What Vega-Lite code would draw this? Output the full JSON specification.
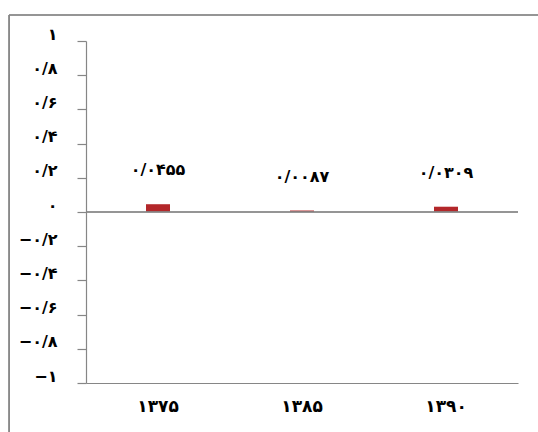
{
  "$schema": "https://vega.github.io/schema/vega-lite/v6.json",
  "width": 432,
  "height": 342,
  "autosize": {"type": "none"},
  "padding": {"left": 86, "top": 41, "right": 20, "bottom": 49},
  "background": "white",
  "config": {"view": {"stroke": null}, "font": "DejaVu Sans"},
  "data": {
    "values": [
      {"year": "۱۳۷۵", "value": 0.0455, "label": "۰/۰۴۵۵"},
      {"year": "۱۳۸۵", "value": 0.0087, "label": "۰/۰۰۸۷"},
      {"year": "۱۳۹۰", "value": 0.0309, "label": "۰/۰۳۰۹"}
    ]
  },
  "resolve": {"scale": {"x": "independent"}},
  "layer": [
    {
      "mark": {"type": "bar", "color": "#b3272a", "size": 24},
      "encoding": {
        "x": {
          "field": "year", "type": "nominal", "sort": null,
          "scale": {"paddingInner": 0, "paddingOuter": 0},
          "axis": {"title": null, "labelAngle": 0, "ticks": false, "domainColor": "#868686", "domainWidth": 1.2,
                   "labelFontSize": 17, "labelFontWeight": "bold", "labelColor": "#000", "labelPadding": 15}
        },
        "y": {
          "field": "value", "type": "quantitative",
          "scale": {"domain": [-1, 1], "nice": false, "zero": false},
          "axis": {
            "title": null, "grid": false, "labelOverlap": false, "tickCount": 11,
            "values": [-1, -0.8, -0.6, -0.4, -0.2, 0, 0.2, 0.4, 0.6, 0.8, 1],
            "labelExpr": "replace(replace(replace(replace(replace(replace(replace(format(datum.value, '.1~f'), '.', '/'), '0', '۰'), '1', '۱'), '2', '۲'), '4', '۴'), '6', '۶'), '8', '۸')",
            "domainColor": "#868686", "domainWidth": 1.2, "tickColor": "#868686", "tickSize": 9, "tickWidth": 1.2,
            "labelFontSize": 16, "labelFontWeight": "bold", "labelColor": "#000", "labelPadding": 20, "labelOffset": -7
          }
        }
      }
    },
    {
      "mark": {"type": "text", "dy": -34, "fontSize": 16, "fontWeight": "bold", "baseline": "middle", "color": "#000"},
      "encoding": {
        "x": {"field": "year", "type": "nominal", "sort": null, "scale": {"paddingInner": 0, "paddingOuter": 0}, "axis": null},
        "y": {"field": "value", "type": "quantitative", "scale": {"domain": [-1, 1], "nice": false, "zero": false}},
        "text": {"field": "label"}
      }
    },
    {
      "mark": {"type": "rule", "color": "#868686", "strokeWidth": 1.2},
      "encoding": {"y": {"datum": 0, "type": "quantitative", "scale": {"domain": [-1, 1], "nice": false, "zero": false}}}
    },
    {
      "mark": {"type": "rule", "color": "#868686", "strokeWidth": 1.2},
      "encoding": {
        "x": {"datum": -0.178, "type": "quantitative", "scale": {"domain": [0, 1], "nice": false, "zero": false}, "axis": null},
        "x2": {"datum": 1.3},
        "y": {"datum": 1.152, "type": "quantitative", "scale": {"domain": [-1, 1], "nice": false, "zero": false}}
      }
    },
    {
      "mark": {"type": "rule", "color": "#868686", "strokeWidth": 1.2},
      "encoding": {
        "x": {"datum": -0.178, "type": "quantitative", "scale": {"domain": [0, 1], "nice": false, "zero": false}, "axis": null},
        "y": {"datum": 1.152, "type": "quantitative", "scale": {"domain": [-1, 1], "nice": false, "zero": false}},
        "y2": {"datum": -1.5}
      }
    }
  ]
}
